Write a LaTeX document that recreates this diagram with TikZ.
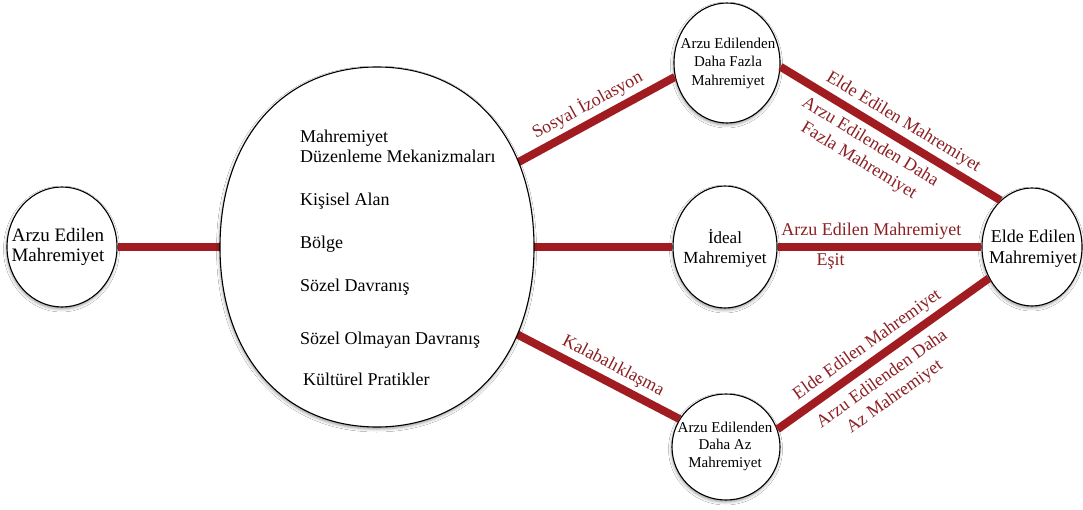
\documentclass[tikz,border=0pt]{standalone}
\usepackage{fontspec}
\setmainfont{Liberation Serif}
\usetikzlibrary{shapes.geometric,shadows.blur}
\definecolor{linered}{RGB}{160,28,32}
\definecolor{labred}{RGB}{140,32,36}
\begin{document}
\begin{tikzpicture}[x=1pt,y=-1pt,
  conn/.style={draw=linered, line width=8pt},
  circ/.style={ellipse, draw=black, line width=1.1pt, fill=white, inner sep=0pt,
    blur shadow={shadow xshift=-0.5pt, shadow yshift=-2pt, shadow blur radius=3pt, shadow opacity=40}},
  ctext/.style={align=center, inner sep=0pt},
  lbl/.style={text=labred, font=\fontsize{18}{22}\selectfont, inner sep=2pt, align=center},
  btext/.style={anchor=base west, inner sep=0pt, font=\fontsize{18}{20}\selectfont}]
\fill[white] (0,0) rectangle (1083,510);
\useasboundingbox (0,0) rectangle (1083,510);

% invisible reference shape for the central region
\node[ellipse, minimum width=314pt, minimum height=360pt, inner sep=0pt] (big) at (377,247) {};

% circles
\node[circ, minimum width=110pt, minimum height=120pt] (left) at (62,247) {};
\node[circ, minimum width=104pt, minimum height=122pt] (ideal) at (725,247) {};
\node[circ, minimum width=100pt, minimum height=118pt] (right) at (1032,247) {};
\node[circ, minimum width=106pt, minimum height=120pt] (top) at (727,63) {};
\node[circ, minimum width=108pt, minimum height=106pt] (bottom) at (726,447) {};

% circle texts
\node[ctext, font=\fontsize{19}{20}\selectfont] (leftT) at (58,247) {Arzu Edilen\\Mahremiyet};
\node[ctext, font=\fontsize{17}{20}\selectfont] (idealT) at (725,248) {İdeal\\Mahremiyet};
\node[ctext, font=\fontsize{18}{21}\selectfont] (rightT) at (1033,249) {Elde Edilen\\Mahremiyet};
\node[ctext, font=\fontsize{15}{18.5}\selectfont] (topT) at (728,63) {Arzu Edilenden\\Daha Fazla\\Mahremiyet};
\node[ctext, font=\fontsize{15}{17.5}\selectfont] (bottomT) at (725,446) {Arzu Edilenden\\Daha Az\\Mahremiyet};

% connectors
\draw[conn] (left.east) -- (big.west);
\draw[conn] (big.east) -- (ideal.west);
\draw[conn] (ideal.east)
  -- node[lbl, above=2pt, pos=0.46] (l5) {Arzu Edilen Mahremiyet}
     node[lbl, below=1pt, pos=0.26] (l6) {Eşit}
  (right.west);
\draw[conn] (big.31.5)
  -- node[lbl, sloped, above=2pt, pos=0.5] (l1) {Sosyal İzolasyon}
  (top.195);
\draw[conn] (top.-4)
  -- node[lbl, sloped, above=2pt, pos=0.52] (l2) {Elde Edilen Mahremiyet}
     node[lbl, sloped, below=4pt, pos=0.45] (l3) {Arzu Edilenden Daha\\Fazla Mahremiyet}
  (right.124);
\draw[conn] (big.-32.7)
  -- node[lbl, sloped, above=2pt, pos=0.55] (l4) {Kalabalıklaşma}
  (bottom.149);
\draw[conn] (bottom.19.4)
  -- node[lbl, sloped, above=2pt, pos=0.47] (l7) {Elde Edilen Mahremiyet}
     node[lbl, sloped, below=6pt, pos=0.44] (l8) {Arzu Edilenden Daha\\Az Mahremiyet}
  (right.216.4);

% central region outline (drawn over the connector ends)
\path[draw=black, line width=1.1pt, fill=white,
    blur shadow={shadow xshift=-0.5pt, shadow yshift=-2pt, shadow blur radius=3pt, shadow opacity=40}]
  (534,247) .. controls (534,355) and (471,427) .. (377,427)
  .. controls (283,427) and (220,355) .. (220,247)
  .. controls (220,139) and (283,67) .. (377,67)
  .. controls (471,67) and (534,139) .. (534,247) -- cycle;

% central texts
\node[btext] (b1) at (300,143) {Mahremiyet};
\node[btext] (b2) at (300,163) {Düzenleme Mekanizmaları};
\node[btext] (b3) at (300,206) {Kişisel Alan};
\node[btext] (b4) at (300,249) {Bölge};
\node[btext] (b5) at (300,291) {Sözel Davranış};
\node[btext] (b6) at (300,344) {Sözel Olmayan Davranış};
\node[btext] (b7) at (303,385) {Kültürel Pratikler};
\end{tikzpicture}
\end{document}
